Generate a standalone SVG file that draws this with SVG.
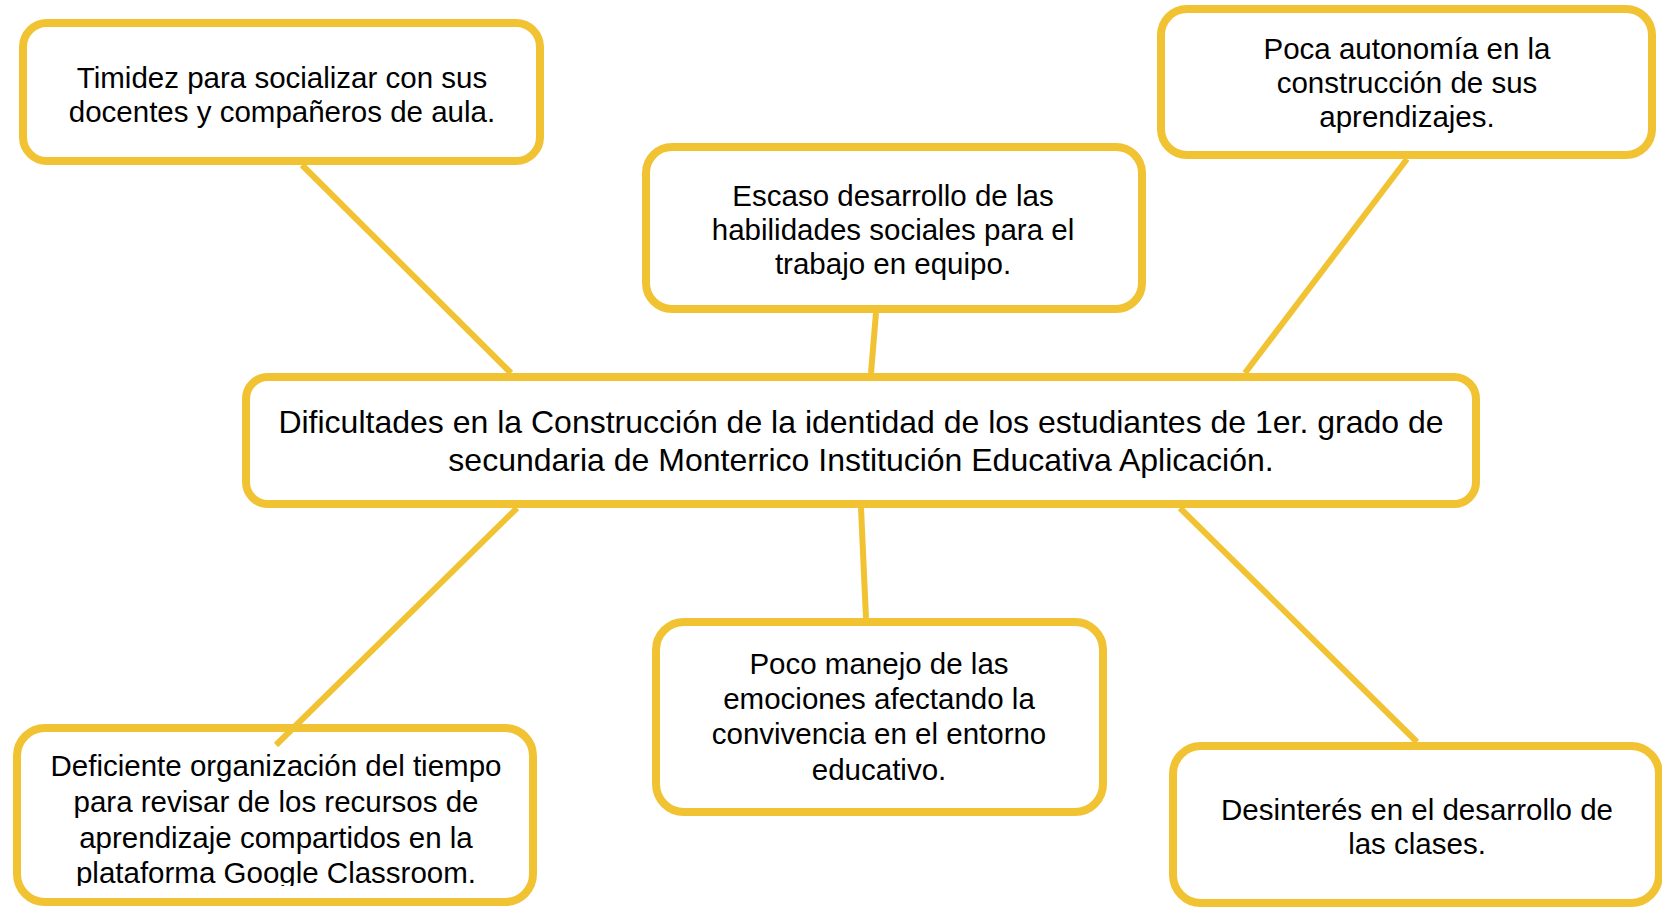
<svg xmlns="http://www.w3.org/2000/svg" width="1662" height="907" viewBox="0 0 1662 907">
<style>
.box{fill:#fff;stroke:#F1C232;stroke-width:8}
.t{font-family:"Liberation Sans",Arial,sans-serif;font-size:29.5px;fill:#000;text-anchor:middle}
.tc{font-size:32px}
.c line{stroke:#F1C232;stroke-width:6;stroke-linecap:butt}
</style>
<defs><clipPath id="clip5"><rect x="0" y="700" width="560" height="186"/></clipPath></defs>
<rect width="1662" height="907" fill="#fff"/>
<g id="n1"><rect class="box" x="23" y="23" width="517" height="138" rx="24"/>
<text class="t" x="282" y="88">Timidez para socializar con sus</text>
<text class="t" x="282" y="122">docentes y compañeros de aula.</text></g>
<g id="n2"><rect class="box" x="646" y="147" width="496" height="162" rx="26"/>
<text class="t" x="893" y="206">Escaso desarrollo de las</text>
<text class="t" x="893" y="240">habilidades sociales para el</text>
<text class="t" x="893" y="274">trabajo en equipo.</text></g>
<g id="n3"><rect class="box" x="1161" y="9" width="491" height="146" rx="26"/>
<text class="t" x="1407" y="59">Poca autonomía en la</text>
<text class="t" x="1407" y="93">construcción de sus</text>
<text class="t" x="1407" y="127">aprendizajes.</text></g>
<g id="n4"><rect class="box" x="246" y="377" width="1230" height="127" rx="22"/>
<text class="t tc" x="861" y="433">Dificultades en la Construcción de la identidad de los estudiantes de 1er. grado de</text>
<text class="t tc" x="861" y="471">secundaria de Monterrico Institución Educativa Aplicación.</text></g>
<g id="n5"><rect class="box" x="17" y="728" width="516" height="174" rx="28"/>
<g clip-path="url(#clip5)">
<text class="t" x="276" y="776">Deficiente organización del tiempo</text>
<text class="t" x="276" y="812">para revisar de los recursos de</text>
<text class="t" x="276" y="848">aprendizaje compartidos en la</text>
<text class="t" x="276" y="883">plataforma Google Classroom.</text></g></g>
<g id="n6"><rect class="box" x="656" y="622" width="447" height="190" rx="28"/>
<text class="t" x="879" y="674">Poco manejo de las</text>
<text class="t" x="879" y="709">emociones afectando la</text>
<text class="t" x="879" y="744">convivencia en el entorno</text>
<text class="t" x="879" y="780">educativo.</text></g>
<g id="n7"><rect class="box" x="1173" y="746" width="486" height="157" rx="28"/>
<text class="t" x="1417" y="820">Desinterés en el desarrollo de</text>
<text class="t" x="1417" y="854">las clases.</text></g>
<g class="c" id="connectors">
<line x1="302" y1="165" x2="511" y2="373"/>
<line x1="876" y1="313" x2="871" y2="373"/>
<line x1="1407" y1="159" x2="1245" y2="373"/>
<line x1="517" y1="508" x2="276" y2="745"/>
<line x1="861" y1="508" x2="866" y2="618"/>
<line x1="1180" y1="508" x2="1417" y2="742"/>
</g>
</svg>
